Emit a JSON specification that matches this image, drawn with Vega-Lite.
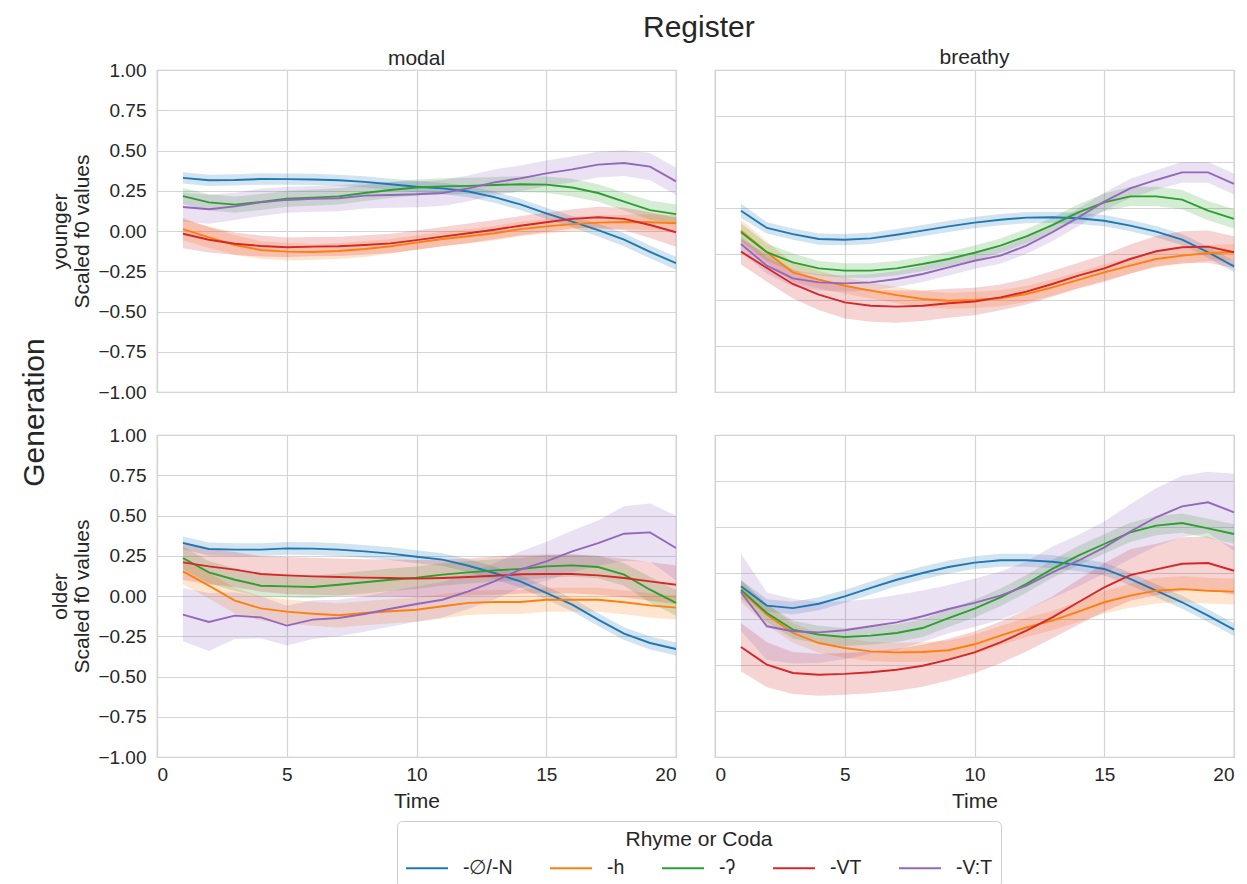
{
  "$schema": "https://vega.github.io/schema/vega-lite/v6.json",
  "background": "white",
  "padding": {"left": 20, "top": 13, "right": 5, "bottom": 5},
  "config": {
    "font": "Liberation Sans",
    "view": {"stroke": "#cccccc", "strokeWidth": 1.25},
    "axis": {
      "domain": false, "ticks": false, "grid": true,
      "gridColor": "#d4d4d4", "gridWidth": 1.2,
      "labelFont": "Liberation Sans", "labelFontSize": 19, "labelColor": "#262626", "labelPadding": 11,
      "titleFont": "Liberation Sans", "titleFontSize": 21, "titleFontWeight": "normal", "titleColor": "#262626", "titleLineHeight": 22
    },
    "axisX": {"labelPadding": 8},
    "title": {"color": "#262626", "fontWeight": "normal", "font": "Liberation Sans"},
    "legend": {
      "titleFontSize": 21, "titleFontWeight": "normal", "titleColor": "#262626",
      "labelFontSize": 19.5, "labelColor": "#262626",
      "titleAnchor": "middle", "titleOrient": "top", "titlePadding": -4,
      "symbolType": "stroke", "symbolStrokeWidth": 2, "symbolSize": 1764, "symbolOpacity": 1,
      "strokeColor": "#cccccc", "fillColor": "white", "cornerRadius": 5, "padding": 8,
      "columnPadding": 33, "labelOffset": 14
    }
  },
  "data": {"values": [
    {"g":"younger","r":"modal","c":"-∅/-N","t":1,"v":0.33,"lo":0.295,"hi":0.365},
    {"g":"younger","r":"modal","c":"-∅/-N","t":2,"v":0.315,"lo":0.28,"hi":0.35},
    {"g":"younger","r":"modal","c":"-∅/-N","t":3,"v":0.317,"lo":0.282,"hi":0.352},
    {"g":"younger","r":"modal","c":"-∅/-N","t":4,"v":0.323,"lo":0.288,"hi":0.358},
    {"g":"younger","r":"modal","c":"-∅/-N","t":5,"v":0.322,"lo":0.287,"hi":0.357},
    {"g":"younger","r":"modal","c":"-∅/-N","t":6,"v":0.32,"lo":0.285,"hi":0.355},
    {"g":"younger","r":"modal","c":"-∅/-N","t":7,"v":0.315,"lo":0.28,"hi":0.35},
    {"g":"younger","r":"modal","c":"-∅/-N","t":8,"v":0.305,"lo":0.27,"hi":0.34},
    {"g":"younger","r":"modal","c":"-∅/-N","t":9,"v":0.29,"lo":0.255,"hi":0.325},
    {"g":"younger","r":"modal","c":"-∅/-N","t":10,"v":0.275,"lo":0.24,"hi":0.31},
    {"g":"younger","r":"modal","c":"-∅/-N","t":11,"v":0.265,"lo":0.23,"hi":0.3},
    {"g":"younger","r":"modal","c":"-∅/-N","t":12,"v":0.245,"lo":0.21,"hi":0.28},
    {"g":"younger","r":"modal","c":"-∅/-N","t":13,"v":0.21,"lo":0.175,"hi":0.245},
    {"g":"younger","r":"modal","c":"-∅/-N","t":14,"v":0.165,"lo":0.13,"hi":0.2},
    {"g":"younger","r":"modal","c":"-∅/-N","t":15,"v":0.11,"lo":0.075,"hi":0.145},
    {"g":"younger","r":"modal","c":"-∅/-N","t":16,"v":0.058,"lo":0.023,"hi":0.093},
    {"g":"younger","r":"modal","c":"-∅/-N","t":17,"v":0.006,"lo":-0.034,"hi":0.046},
    {"g":"younger","r":"modal","c":"-∅/-N","t":18,"v":-0.054,"lo":-0.094,"hi":-0.014},
    {"g":"younger","r":"modal","c":"-∅/-N","t":19,"v":-0.13,"lo":-0.17,"hi":-0.09},
    {"g":"younger","r":"modal","c":"-∅/-N","t":20,"v":-0.2,"lo":-0.24,"hi":-0.16},
    {"g":"younger","r":"modal","c":"-h","t":1,"v":0.012,"lo":-0.058,"hi":0.082},
    {"g":"younger","r":"modal","c":"-h","t":2,"v":-0.04,"lo":-0.105,"hi":0.025},
    {"g":"younger","r":"modal","c":"-h","t":3,"v":-0.087,"lo":-0.147,"hi":-0.027},
    {"g":"younger","r":"modal","c":"-h","t":4,"v":-0.118,"lo":-0.173,"hi":-0.063},
    {"g":"younger","r":"modal","c":"-h","t":5,"v":-0.128,"lo":-0.183,"hi":-0.073},
    {"g":"younger","r":"modal","c":"-h","t":6,"v":-0.13,"lo":-0.18,"hi":-0.08},
    {"g":"younger","r":"modal","c":"-h","t":7,"v":-0.124,"lo":-0.174,"hi":-0.074},
    {"g":"younger","r":"modal","c":"-h","t":8,"v":-0.112,"lo":-0.162,"hi":-0.062},
    {"g":"younger","r":"modal","c":"-h","t":9,"v":-0.095,"lo":-0.14,"hi":-0.05},
    {"g":"younger","r":"modal","c":"-h","t":10,"v":-0.072,"lo":-0.117,"hi":-0.027},
    {"g":"younger","r":"modal","c":"-h","t":11,"v":-0.05,"lo":-0.095,"hi":-0.005},
    {"g":"younger","r":"modal","c":"-h","t":12,"v":-0.033,"lo":-0.078,"hi":0.012},
    {"g":"younger","r":"modal","c":"-h","t":13,"v":-0.014,"lo":-0.059,"hi":0.031},
    {"g":"younger","r":"modal","c":"-h","t":14,"v":0.012,"lo":-0.033,"hi":0.057},
    {"g":"younger","r":"modal","c":"-h","t":15,"v":0.029,"lo":-0.016,"hi":0.074},
    {"g":"younger","r":"modal","c":"-h","t":16,"v":0.043,"lo":-0.002,"hi":0.088},
    {"g":"younger","r":"modal","c":"-h","t":17,"v":0.052,"lo":0.007,"hi":0.097},
    {"g":"younger","r":"modal","c":"-h","t":18,"v":0.056,"lo":0.011,"hi":0.101},
    {"g":"younger","r":"modal","c":"-h","t":19,"v":0.054,"lo":0.004,"hi":0.104},
    {"g":"younger","r":"modal","c":"-h","t":20,"v":0.048,"lo":-0.002,"hi":0.098},
    {"g":"younger","r":"modal","c":"-ʔ","t":1,"v":0.217,"lo":0.167,"hi":0.267},
    {"g":"younger","r":"modal","c":"-ʔ","t":2,"v":0.178,"lo":0.128,"hi":0.228},
    {"g":"younger","r":"modal","c":"-ʔ","t":3,"v":0.164,"lo":0.114,"hi":0.214},
    {"g":"younger","r":"modal","c":"-ʔ","t":4,"v":0.18,"lo":0.13,"hi":0.23},
    {"g":"younger","r":"modal","c":"-ʔ","t":5,"v":0.2,"lo":0.15,"hi":0.25},
    {"g":"younger","r":"modal","c":"-ʔ","t":6,"v":0.207,"lo":0.157,"hi":0.257},
    {"g":"younger","r":"modal","c":"-ʔ","t":7,"v":0.215,"lo":0.165,"hi":0.265},
    {"g":"younger","r":"modal","c":"-ʔ","t":8,"v":0.236,"lo":0.186,"hi":0.286},
    {"g":"younger","r":"modal","c":"-ʔ","t":9,"v":0.255,"lo":0.205,"hi":0.305},
    {"g":"younger","r":"modal","c":"-ʔ","t":10,"v":0.27,"lo":0.22,"hi":0.32},
    {"g":"younger","r":"modal","c":"-ʔ","t":11,"v":0.277,"lo":0.227,"hi":0.327},
    {"g":"younger","r":"modal","c":"-ʔ","t":12,"v":0.28,"lo":0.23,"hi":0.33},
    {"g":"younger","r":"modal","c":"-ʔ","t":13,"v":0.286,"lo":0.236,"hi":0.336},
    {"g":"younger","r":"modal","c":"-ʔ","t":14,"v":0.29,"lo":0.24,"hi":0.34},
    {"g":"younger","r":"modal","c":"-ʔ","t":15,"v":0.288,"lo":0.238,"hi":0.338},
    {"g":"younger","r":"modal","c":"-ʔ","t":16,"v":0.27,"lo":0.215,"hi":0.325},
    {"g":"younger","r":"modal","c":"-ʔ","t":17,"v":0.236,"lo":0.181,"hi":0.291},
    {"g":"younger","r":"modal","c":"-ʔ","t":18,"v":0.182,"lo":0.127,"hi":0.237},
    {"g":"younger","r":"modal","c":"-ʔ","t":19,"v":0.13,"lo":0.07,"hi":0.19},
    {"g":"younger","r":"modal","c":"-ʔ","t":20,"v":0.105,"lo":0.045,"hi":0.165},
    {"g":"younger","r":"modal","c":"-VT","t":1,"v":-0.017,"lo":-0.107,"hi":0.073},
    {"g":"younger","r":"modal","c":"-VT","t":2,"v":-0.054,"lo":-0.134,"hi":0.026},
    {"g":"younger","r":"modal","c":"-VT","t":3,"v":-0.079,"lo":-0.149,"hi":-0.009},
    {"g":"younger","r":"modal","c":"-VT","t":4,"v":-0.093,"lo":-0.158,"hi":-0.028},
    {"g":"younger","r":"modal","c":"-VT","t":5,"v":-0.101,"lo":-0.161,"hi":-0.041},
    {"g":"younger","r":"modal","c":"-VT","t":6,"v":-0.097,"lo":-0.157,"hi":-0.037},
    {"g":"younger","r":"modal","c":"-VT","t":7,"v":-0.095,"lo":-0.155,"hi":-0.035},
    {"g":"younger","r":"modal","c":"-VT","t":8,"v":-0.087,"lo":-0.147,"hi":-0.027},
    {"g":"younger","r":"modal","c":"-VT","t":9,"v":-0.077,"lo":-0.137,"hi":-0.017},
    {"g":"younger","r":"modal","c":"-VT","t":10,"v":-0.057,"lo":-0.117,"hi":0.003},
    {"g":"younger","r":"modal","c":"-VT","t":11,"v":-0.035,"lo":-0.095,"hi":0.025},
    {"g":"younger","r":"modal","c":"-VT","t":12,"v":-0.014,"lo":-0.074,"hi":0.046},
    {"g":"younger","r":"modal","c":"-VT","t":13,"v":0.008,"lo":-0.052,"hi":0.068},
    {"g":"younger","r":"modal","c":"-VT","t":14,"v":0.033,"lo":-0.027,"hi":0.093},
    {"g":"younger","r":"modal","c":"-VT","t":15,"v":0.054,"lo":-0.006,"hi":0.114},
    {"g":"younger","r":"modal","c":"-VT","t":16,"v":0.075,"lo":0.015,"hi":0.135},
    {"g":"younger","r":"modal","c":"-VT","t":17,"v":0.085,"lo":0.02,"hi":0.15},
    {"g":"younger","r":"modal","c":"-VT","t":18,"v":0.075,"lo":0.005,"hi":0.145},
    {"g":"younger","r":"modal","c":"-VT","t":19,"v":0.037,"lo":-0.043,"hi":0.117},
    {"g":"younger","r":"modal","c":"-VT","t":20,"v":-0.008,"lo":-0.098,"hi":0.082},
    {"g":"younger","r":"modal","c":"-V:T","t":1,"v":0.149,"lo":0.059,"hi":0.239},
    {"g":"younger","r":"modal","c":"-V:T","t":2,"v":0.135,"lo":0.045,"hi":0.225},
    {"g":"younger","r":"modal","c":"-V:T","t":3,"v":0.153,"lo":0.068,"hi":0.238},
    {"g":"younger","r":"modal","c":"-V:T","t":4,"v":0.178,"lo":0.093,"hi":0.263},
    {"g":"younger","r":"modal","c":"-V:T","t":5,"v":0.193,"lo":0.113,"hi":0.273},
    {"g":"younger","r":"modal","c":"-V:T","t":6,"v":0.2,"lo":0.12,"hi":0.28},
    {"g":"younger","r":"modal","c":"-V:T","t":7,"v":0.203,"lo":0.123,"hi":0.283},
    {"g":"younger","r":"modal","c":"-V:T","t":8,"v":0.22,"lo":0.14,"hi":0.3},
    {"g":"younger","r":"modal","c":"-V:T","t":9,"v":0.224,"lo":0.144,"hi":0.304},
    {"g":"younger","r":"modal","c":"-V:T","t":10,"v":0.228,"lo":0.148,"hi":0.308},
    {"g":"younger","r":"modal","c":"-V:T","t":11,"v":0.236,"lo":0.156,"hi":0.316},
    {"g":"younger","r":"modal","c":"-V:T","t":12,"v":0.265,"lo":0.185,"hi":0.345},
    {"g":"younger","r":"modal","c":"-V:T","t":13,"v":0.302,"lo":0.222,"hi":0.382},
    {"g":"younger","r":"modal","c":"-V:T","t":14,"v":0.327,"lo":0.247,"hi":0.407},
    {"g":"younger","r":"modal","c":"-V:T","t":15,"v":0.358,"lo":0.278,"hi":0.438},
    {"g":"younger","r":"modal","c":"-V:T","t":16,"v":0.383,"lo":0.303,"hi":0.463},
    {"g":"younger","r":"modal","c":"-V:T","t":17,"v":0.412,"lo":0.332,"hi":0.492},
    {"g":"younger","r":"modal","c":"-V:T","t":18,"v":0.422,"lo":0.342,"hi":0.502},
    {"g":"younger","r":"modal","c":"-V:T","t":19,"v":0.4,"lo":0.315,"hi":0.485},
    {"g":"younger","r":"modal","c":"-V:T","t":20,"v":0.308,"lo":0.223,"hi":0.393},

    {"g":"younger","r":"breathy","c":"-∅/-N","t":1,"v":0.126,"lo":0.081,"hi":0.171},
    {"g":"younger","r":"breathy","c":"-∅/-N","t":2,"v":0.019,"lo":-0.016,"hi":0.054},
    {"g":"younger","r":"breathy","c":"-∅/-N","t":3,"v":-0.019,"lo":-0.054,"hi":0.016},
    {"g":"younger","r":"breathy","c":"-∅/-N","t":4,"v":-0.05,"lo":-0.085,"hi":-0.015},
    {"g":"younger","r":"breathy","c":"-∅/-N","t":5,"v":-0.054,"lo":-0.089,"hi":-0.019},
    {"g":"younger","r":"breathy","c":"-∅/-N","t":6,"v":-0.046,"lo":-0.081,"hi":-0.011},
    {"g":"younger","r":"breathy","c":"-∅/-N","t":7,"v":-0.023,"lo":-0.058,"hi":0.012},
    {"g":"younger","r":"breathy","c":"-∅/-N","t":8,"v":0.002,"lo":-0.033,"hi":0.037},
    {"g":"younger","r":"breathy","c":"-∅/-N","t":9,"v":0.029,"lo":-0.006,"hi":0.064},
    {"g":"younger","r":"breathy","c":"-∅/-N","t":10,"v":0.052,"lo":0.017,"hi":0.087},
    {"g":"younger","r":"breathy","c":"-∅/-N","t":11,"v":0.07,"lo":0.035,"hi":0.105},
    {"g":"younger","r":"breathy","c":"-∅/-N","t":12,"v":0.083,"lo":0.048,"hi":0.118},
    {"g":"younger","r":"breathy","c":"-∅/-N","t":13,"v":0.085,"lo":0.05,"hi":0.12},
    {"g":"younger","r":"breathy","c":"-∅/-N","t":14,"v":0.079,"lo":0.044,"hi":0.114},
    {"g":"younger","r":"breathy","c":"-∅/-N","t":15,"v":0.064,"lo":0.029,"hi":0.099},
    {"g":"younger","r":"breathy","c":"-∅/-N","t":16,"v":0.033,"lo":-0.002,"hi":0.068},
    {"g":"younger","r":"breathy","c":"-∅/-N","t":17,"v":-0.004,"lo":-0.039,"hi":0.031},
    {"g":"younger","r":"breathy","c":"-∅/-N","t":18,"v":-0.054,"lo":-0.089,"hi":-0.019},
    {"g":"younger","r":"breathy","c":"-∅/-N","t":19,"v":-0.132,"lo":-0.167,"hi":-0.097},
    {"g":"younger","r":"breathy","c":"-∅/-N","t":20,"v":-0.22,"lo":-0.255,"hi":-0.185},
    {"g":"younger","r":"breathy","c":"-h","t":1,"v":0.002,"lo":-0.068,"hi":0.072},
    {"g":"younger","r":"breathy","c":"-h","t":2,"v":-0.132,"lo":-0.197,"hi":-0.067},
    {"g":"younger","r":"breathy","c":"-h","t":3,"v":-0.257,"lo":-0.317,"hi":-0.197},
    {"g":"younger","r":"breathy","c":"-h","t":4,"v":-0.302,"lo":-0.357,"hi":-0.247},
    {"g":"younger","r":"breathy","c":"-h","t":5,"v":-0.34,"lo":-0.39,"hi":-0.29},
    {"g":"younger","r":"breathy","c":"-h","t":6,"v":-0.37,"lo":-0.42,"hi":-0.32},
    {"g":"younger","r":"breathy","c":"-h","t":7,"v":-0.398,"lo":-0.448,"hi":-0.348},
    {"g":"younger","r":"breathy","c":"-h","t":8,"v":-0.422,"lo":-0.472,"hi":-0.372},
    {"g":"younger","r":"breathy","c":"-h","t":9,"v":-0.433,"lo":-0.483,"hi":-0.383},
    {"g":"younger","r":"breathy","c":"-h","t":10,"v":-0.428,"lo":-0.478,"hi":-0.378},
    {"g":"younger","r":"breathy","c":"-h","t":11,"v":-0.418,"lo":-0.468,"hi":-0.368},
    {"g":"younger","r":"breathy","c":"-h","t":12,"v":-0.391,"lo":-0.441,"hi":-0.341},
    {"g":"younger","r":"breathy","c":"-h","t":13,"v":-0.35,"lo":-0.4,"hi":-0.3},
    {"g":"younger","r":"breathy","c":"-h","t":14,"v":-0.304,"lo":-0.354,"hi":-0.254},
    {"g":"younger","r":"breathy","c":"-h","t":15,"v":-0.257,"lo":-0.307,"hi":-0.207},
    {"g":"younger","r":"breathy","c":"-h","t":16,"v":-0.215,"lo":-0.265,"hi":-0.165},
    {"g":"younger","r":"breathy","c":"-h","t":17,"v":-0.174,"lo":-0.224,"hi":-0.124},
    {"g":"younger","r":"breathy","c":"-h","t":18,"v":-0.153,"lo":-0.203,"hi":-0.103},
    {"g":"younger","r":"breathy","c":"-h","t":19,"v":-0.137,"lo":-0.187,"hi":-0.087},
    {"g":"younger","r":"breathy","c":"-h","t":20,"v":-0.132,"lo":-0.182,"hi":-0.082},
    {"g":"younger","r":"breathy","c":"-ʔ","t":1,"v":-0.008,"lo":-0.063,"hi":0.047},
    {"g":"younger","r":"breathy","c":"-ʔ","t":2,"v":-0.132,"lo":-0.187,"hi":-0.077},
    {"g":"younger","r":"breathy","c":"-ʔ","t":3,"v":-0.195,"lo":-0.25,"hi":-0.14},
    {"g":"younger","r":"breathy","c":"-ʔ","t":4,"v":-0.232,"lo":-0.277,"hi":-0.187},
    {"g":"younger","r":"breathy","c":"-ʔ","t":5,"v":-0.246,"lo":-0.291,"hi":-0.201},
    {"g":"younger","r":"breathy","c":"-ʔ","t":6,"v":-0.246,"lo":-0.291,"hi":-0.201},
    {"g":"younger","r":"breathy","c":"-ʔ","t":7,"v":-0.232,"lo":-0.277,"hi":-0.187},
    {"g":"younger","r":"breathy","c":"-ʔ","t":8,"v":-0.205,"lo":-0.25,"hi":-0.16},
    {"g":"younger","r":"breathy","c":"-ʔ","t":9,"v":-0.174,"lo":-0.219,"hi":-0.129},
    {"g":"younger","r":"breathy","c":"-ʔ","t":10,"v":-0.135,"lo":-0.18,"hi":-0.09},
    {"g":"younger","r":"breathy","c":"-ʔ","t":11,"v":-0.091,"lo":-0.136,"hi":-0.046},
    {"g":"younger","r":"breathy","c":"-ʔ","t":12,"v":-0.033,"lo":-0.078,"hi":0.012},
    {"g":"younger","r":"breathy","c":"-ʔ","t":13,"v":0.037,"lo":-0.008,"hi":0.082},
    {"g":"younger","r":"breathy","c":"-ʔ","t":14,"v":0.116,"lo":0.066,"hi":0.166},
    {"g":"younger","r":"breathy","c":"-ʔ","t":15,"v":0.178,"lo":0.123,"hi":0.233},
    {"g":"younger","r":"breathy","c":"-ʔ","t":16,"v":0.215,"lo":0.155,"hi":0.275},
    {"g":"younger","r":"breathy","c":"-ʔ","t":17,"v":0.215,"lo":0.155,"hi":0.275},
    {"g":"younger","r":"breathy","c":"-ʔ","t":18,"v":0.195,"lo":0.135,"hi":0.255},
    {"g":"younger","r":"breathy","c":"-ʔ","t":19,"v":0.126,"lo":0.066,"hi":0.186},
    {"g":"younger","r":"breathy","c":"-ʔ","t":20,"v":0.075,"lo":0.015,"hi":0.135},
    {"g":"younger","r":"breathy","c":"-VT","t":1,"v":-0.128,"lo":-0.208,"hi":-0.048},
    {"g":"younger","r":"breathy","c":"-VT","t":2,"v":-0.23,"lo":-0.315,"hi":-0.145},
    {"g":"younger","r":"breathy","c":"-VT","t":3,"v":-0.329,"lo":-0.419,"hi":-0.239},
    {"g":"younger","r":"breathy","c":"-VT","t":4,"v":-0.395,"lo":-0.49,"hi":-0.3},
    {"g":"younger","r":"breathy","c":"-VT","t":5,"v":-0.443,"lo":-0.543,"hi":-0.343},
    {"g":"younger","r":"breathy","c":"-VT","t":6,"v":-0.464,"lo":-0.564,"hi":-0.364},
    {"g":"younger","r":"breathy","c":"-VT","t":7,"v":-0.47,"lo":-0.57,"hi":-0.37},
    {"g":"younger","r":"breathy","c":"-VT","t":8,"v":-0.464,"lo":-0.559,"hi":-0.369},
    {"g":"younger","r":"breathy","c":"-VT","t":9,"v":-0.449,"lo":-0.539,"hi":-0.359},
    {"g":"younger","r":"breathy","c":"-VT","t":10,"v":-0.438,"lo":-0.523,"hi":-0.353},
    {"g":"younger","r":"breathy","c":"-VT","t":11,"v":-0.412,"lo":-0.492,"hi":-0.332},
    {"g":"younger","r":"breathy","c":"-VT","t":12,"v":-0.377,"lo":-0.457,"hi":-0.297},
    {"g":"younger","r":"breathy","c":"-VT","t":13,"v":-0.329,"lo":-0.409,"hi":-0.249},
    {"g":"younger","r":"breathy","c":"-VT","t":14,"v":-0.277,"lo":-0.357,"hi":-0.197},
    {"g":"younger","r":"breathy","c":"-VT","t":15,"v":-0.232,"lo":-0.317,"hi":-0.147},
    {"g":"younger","r":"breathy","c":"-VT","t":16,"v":-0.174,"lo":-0.264,"hi":-0.084},
    {"g":"younger","r":"breathy","c":"-VT","t":17,"v":-0.126,"lo":-0.221,"hi":-0.031},
    {"g":"younger","r":"breathy","c":"-VT","t":18,"v":-0.101,"lo":-0.201,"hi":-0.001},
    {"g":"younger","r":"breathy","c":"-VT","t":19,"v":-0.097,"lo":-0.197,"hi":0.003},
    {"g":"younger","r":"breathy","c":"-VT","t":20,"v":-0.132,"lo":-0.232,"hi":-0.032},
    {"g":"younger","r":"breathy","c":"-V:T","t":1,"v":-0.081,"lo":-0.131,"hi":-0.031},
    {"g":"younger","r":"breathy","c":"-V:T","t":2,"v":-0.215,"lo":-0.265,"hi":-0.165},
    {"g":"younger","r":"breathy","c":"-V:T","t":3,"v":-0.294,"lo":-0.344,"hi":-0.244},
    {"g":"younger","r":"breathy","c":"-V:T","t":4,"v":-0.319,"lo":-0.369,"hi":-0.269},
    {"g":"younger","r":"breathy","c":"-V:T","t":5,"v":-0.325,"lo":-0.375,"hi":-0.275},
    {"g":"younger","r":"breathy","c":"-V:T","t":6,"v":-0.319,"lo":-0.369,"hi":-0.269},
    {"g":"younger","r":"breathy","c":"-V:T","t":7,"v":-0.298,"lo":-0.348,"hi":-0.248},
    {"g":"younger","r":"breathy","c":"-V:T","t":8,"v":-0.267,"lo":-0.317,"hi":-0.217},
    {"g":"younger","r":"breathy","c":"-V:T","t":9,"v":-0.226,"lo":-0.276,"hi":-0.176},
    {"g":"younger","r":"breathy","c":"-V:T","t":10,"v":-0.185,"lo":-0.235,"hi":-0.135},
    {"g":"younger","r":"breathy","c":"-V:T","t":11,"v":-0.153,"lo":-0.203,"hi":-0.103},
    {"g":"younger","r":"breathy","c":"-V:T","t":12,"v":-0.091,"lo":-0.141,"hi":-0.041},
    {"g":"younger","r":"breathy","c":"-V:T","t":13,"v":-0.008,"lo":-0.063,"hi":0.047},
    {"g":"younger","r":"breathy","c":"-V:T","t":14,"v":0.085,"lo":0.03,"hi":0.14},
    {"g":"younger","r":"breathy","c":"-V:T","t":15,"v":0.182,"lo":0.127,"hi":0.237},
    {"g":"younger","r":"breathy","c":"-V:T","t":16,"v":0.265,"lo":0.205,"hi":0.325},
    {"g":"younger","r":"breathy","c":"-V:T","t":17,"v":0.317,"lo":0.257,"hi":0.377},
    {"g":"younger","r":"breathy","c":"-V:T","t":18,"v":0.364,"lo":0.299,"hi":0.429},
    {"g":"younger","r":"breathy","c":"-V:T","t":19,"v":0.364,"lo":0.299,"hi":0.429},
    {"g":"younger","r":"breathy","c":"-V:T","t":20,"v":0.292,"lo":0.227,"hi":0.357},

    {"g":"older","r":"modal","c":"-∅/-N","t":1,"v":0.329,"lo":0.289,"hi":0.369},
    {"g":"older","r":"modal","c":"-∅/-N","t":2,"v":0.292,"lo":0.252,"hi":0.332},
    {"g":"older","r":"modal","c":"-∅/-N","t":3,"v":0.288,"lo":0.248,"hi":0.328},
    {"g":"older","r":"modal","c":"-∅/-N","t":4,"v":0.288,"lo":0.248,"hi":0.328},
    {"g":"older","r":"modal","c":"-∅/-N","t":5,"v":0.296,"lo":0.256,"hi":0.336},
    {"g":"older","r":"modal","c":"-∅/-N","t":6,"v":0.294,"lo":0.254,"hi":0.334},
    {"g":"older","r":"modal","c":"-∅/-N","t":7,"v":0.288,"lo":0.248,"hi":0.328},
    {"g":"older","r":"modal","c":"-∅/-N","t":8,"v":0.277,"lo":0.237,"hi":0.317},
    {"g":"older","r":"modal","c":"-∅/-N","t":9,"v":0.263,"lo":0.223,"hi":0.303},
    {"g":"older","r":"modal","c":"-∅/-N","t":10,"v":0.244,"lo":0.204,"hi":0.284},
    {"g":"older","r":"modal","c":"-∅/-N","t":11,"v":0.226,"lo":0.186,"hi":0.266},
    {"g":"older","r":"modal","c":"-∅/-N","t":12,"v":0.188,"lo":0.148,"hi":0.228},
    {"g":"older","r":"modal","c":"-∅/-N","t":13,"v":0.143,"lo":0.103,"hi":0.183},
    {"g":"older","r":"modal","c":"-∅/-N","t":14,"v":0.091,"lo":0.051,"hi":0.131},
    {"g":"older","r":"modal","c":"-∅/-N","t":15,"v":0.019,"lo":-0.021,"hi":0.059},
    {"g":"older","r":"modal","c":"-∅/-N","t":16,"v":-0.054,"lo":-0.094,"hi":-0.014},
    {"g":"older","r":"modal","c":"-∅/-N","t":17,"v":-0.147,"lo":-0.187,"hi":-0.107},
    {"g":"older","r":"modal","c":"-∅/-N","t":18,"v":-0.234,"lo":-0.274,"hi":-0.194},
    {"g":"older","r":"modal","c":"-∅/-N","t":19,"v":-0.292,"lo":-0.332,"hi":-0.252},
    {"g":"older","r":"modal","c":"-∅/-N","t":20,"v":-0.329,"lo":-0.369,"hi":-0.289},
    {"g":"older","r":"modal","c":"-h","t":1,"v":0.153,"lo":0.073,"hi":0.233},
    {"g":"older","r":"modal","c":"-h","t":2,"v":0.064,"lo":-0.016,"hi":0.144},
    {"g":"older","r":"modal","c":"-h","t":3,"v":-0.029,"lo":-0.109,"hi":0.051},
    {"g":"older","r":"modal","c":"-h","t":4,"v":-0.077,"lo":-0.152,"hi":-0.002},
    {"g":"older","r":"modal","c":"-h","t":5,"v":-0.097,"lo":-0.172,"hi":-0.022},
    {"g":"older","r":"modal","c":"-h","t":6,"v":-0.11,"lo":-0.185,"hi":-0.035},
    {"g":"older","r":"modal","c":"-h","t":7,"v":-0.12,"lo":-0.195,"hi":-0.045},
    {"g":"older","r":"modal","c":"-h","t":8,"v":-0.106,"lo":-0.181,"hi":-0.031},
    {"g":"older","r":"modal","c":"-h","t":9,"v":-0.095,"lo":-0.17,"hi":-0.02},
    {"g":"older","r":"modal","c":"-h","t":10,"v":-0.085,"lo":-0.16,"hi":-0.01},
    {"g":"older","r":"modal","c":"-h","t":11,"v":-0.064,"lo":-0.139,"hi":0.011},
    {"g":"older","r":"modal","c":"-h","t":12,"v":-0.043,"lo":-0.118,"hi":0.032},
    {"g":"older","r":"modal","c":"-h","t":13,"v":-0.037,"lo":-0.112,"hi":0.038},
    {"g":"older","r":"modal","c":"-h","t":14,"v":-0.037,"lo":-0.112,"hi":0.038},
    {"g":"older","r":"modal","c":"-h","t":15,"v":-0.023,"lo":-0.098,"hi":0.052},
    {"g":"older","r":"modal","c":"-h","t":16,"v":-0.023,"lo":-0.098,"hi":0.052},
    {"g":"older","r":"modal","c":"-h","t":17,"v":-0.023,"lo":-0.098,"hi":0.052},
    {"g":"older","r":"modal","c":"-h","t":18,"v":-0.039,"lo":-0.114,"hi":0.036},
    {"g":"older","r":"modal","c":"-h","t":19,"v":-0.058,"lo":-0.133,"hi":0.017},
    {"g":"older","r":"modal","c":"-h","t":20,"v":-0.072,"lo":-0.147,"hi":0.003},
    {"g":"older","r":"modal","c":"-ʔ","t":1,"v":0.236,"lo":0.166,"hi":0.306},
    {"g":"older","r":"modal","c":"-ʔ","t":2,"v":0.147,"lo":0.077,"hi":0.217},
    {"g":"older","r":"modal","c":"-ʔ","t":3,"v":0.101,"lo":0.031,"hi":0.171},
    {"g":"older","r":"modal","c":"-ʔ","t":4,"v":0.064,"lo":-0.006,"hi":0.134},
    {"g":"older","r":"modal","c":"-ʔ","t":5,"v":0.06,"lo":-0.01,"hi":0.13},
    {"g":"older","r":"modal","c":"-ʔ","t":6,"v":0.056,"lo":-0.014,"hi":0.126},
    {"g":"older","r":"modal","c":"-ʔ","t":7,"v":0.07,"lo":0.0,"hi":0.14},
    {"g":"older","r":"modal","c":"-ʔ","t":8,"v":0.085,"lo":0.015,"hi":0.155},
    {"g":"older","r":"modal","c":"-ʔ","t":9,"v":0.101,"lo":0.031,"hi":0.171},
    {"g":"older","r":"modal","c":"-ʔ","t":10,"v":0.113,"lo":0.043,"hi":0.183},
    {"g":"older","r":"modal","c":"-ʔ","t":11,"v":0.133,"lo":0.063,"hi":0.203},
    {"g":"older","r":"modal","c":"-ʔ","t":12,"v":0.147,"lo":0.077,"hi":0.217},
    {"g":"older","r":"modal","c":"-ʔ","t":13,"v":0.159,"lo":0.089,"hi":0.229},
    {"g":"older","r":"modal","c":"-ʔ","t":14,"v":0.168,"lo":0.098,"hi":0.238},
    {"g":"older","r":"modal","c":"-ʔ","t":15,"v":0.184,"lo":0.114,"hi":0.254},
    {"g":"older","r":"modal","c":"-ʔ","t":16,"v":0.19,"lo":0.12,"hi":0.26},
    {"g":"older","r":"modal","c":"-ʔ","t":17,"v":0.18,"lo":0.11,"hi":0.25},
    {"g":"older","r":"modal","c":"-ʔ","t":18,"v":0.133,"lo":0.063,"hi":0.203},
    {"g":"older","r":"modal","c":"-ʔ","t":19,"v":0.039,"lo":-0.041,"hi":0.119},
    {"g":"older","r":"modal","c":"-ʔ","t":20,"v":-0.043,"lo":-0.123,"hi":0.037},
    {"g":"older","r":"modal","c":"-VT","t":1,"v":0.209,"lo":0.099,"hi":0.319},
    {"g":"older","r":"modal","c":"-VT","t":2,"v":0.184,"lo":0.074,"hi":0.294},
    {"g":"older","r":"modal","c":"-VT","t":3,"v":0.164,"lo":0.054,"hi":0.274},
    {"g":"older","r":"modal","c":"-VT","t":4,"v":0.137,"lo":0.027,"hi":0.247},
    {"g":"older","r":"modal","c":"-VT","t":5,"v":0.128,"lo":0.013,"hi":0.243},
    {"g":"older","r":"modal","c":"-VT","t":6,"v":0.122,"lo":0.007,"hi":0.237},
    {"g":"older","r":"modal","c":"-VT","t":7,"v":0.118,"lo":0.003,"hi":0.233},
    {"g":"older","r":"modal","c":"-VT","t":8,"v":0.114,"lo":-0.001,"hi":0.229},
    {"g":"older","r":"modal","c":"-VT","t":9,"v":0.112,"lo":-0.003,"hi":0.227},
    {"g":"older","r":"modal","c":"-VT","t":10,"v":0.108,"lo":-0.007,"hi":0.223},
    {"g":"older","r":"modal","c":"-VT","t":11,"v":0.112,"lo":-0.003,"hi":0.227},
    {"g":"older","r":"modal","c":"-VT","t":12,"v":0.118,"lo":0.003,"hi":0.233},
    {"g":"older","r":"modal","c":"-VT","t":13,"v":0.126,"lo":0.006,"hi":0.246},
    {"g":"older","r":"modal","c":"-VT","t":14,"v":0.135,"lo":0.015,"hi":0.255},
    {"g":"older","r":"modal","c":"-VT","t":15,"v":0.137,"lo":0.017,"hi":0.257},
    {"g":"older","r":"modal","c":"-VT","t":16,"v":0.137,"lo":0.017,"hi":0.257},
    {"g":"older","r":"modal","c":"-VT","t":17,"v":0.128,"lo":0.008,"hi":0.248},
    {"g":"older","r":"modal","c":"-VT","t":18,"v":0.112,"lo":-0.008,"hi":0.232},
    {"g":"older","r":"modal","c":"-VT","t":19,"v":0.091,"lo":-0.029,"hi":0.211},
    {"g":"older","r":"modal","c":"-VT","t":20,"v":0.07,"lo":-0.05,"hi":0.19},
    {"g":"older","r":"modal","c":"-V:T","t":1,"v":-0.116,"lo":-0.281,"hi":0.049},
    {"g":"older","r":"modal","c":"-V:T","t":2,"v":-0.161,"lo":-0.341,"hi":0.019},
    {"g":"older","r":"modal","c":"-V:T","t":3,"v":-0.122,"lo":-0.267,"hi":0.023},
    {"g":"older","r":"modal","c":"-V:T","t":4,"v":-0.133,"lo":-0.263,"hi":-0.003},
    {"g":"older","r":"modal","c":"-V:T","t":5,"v":-0.184,"lo":-0.308,"hi":-0.06},
    {"g":"older","r":"modal","c":"-V:T","t":6,"v":-0.147,"lo":-0.267,"hi":-0.027},
    {"g":"older","r":"modal","c":"-V:T","t":7,"v":-0.137,"lo":-0.25,"hi":-0.024},
    {"g":"older","r":"modal","c":"-V:T","t":8,"v":-0.112,"lo":-0.222,"hi":-0.002},
    {"g":"older","r":"modal","c":"-V:T","t":9,"v":-0.079,"lo":-0.189,"hi":0.031},
    {"g":"older","r":"modal","c":"-V:T","t":10,"v":-0.05,"lo":-0.16,"hi":0.06},
    {"g":"older","r":"modal","c":"-V:T","t":11,"v":-0.023,"lo":-0.133,"hi":0.087},
    {"g":"older","r":"modal","c":"-V:T","t":12,"v":0.029,"lo":-0.081,"hi":0.139},
    {"g":"older","r":"modal","c":"-V:T","t":13,"v":0.091,"lo":-0.021,"hi":0.203},
    {"g":"older","r":"modal","c":"-V:T","t":14,"v":0.164,"lo":0.051,"hi":0.277},
    {"g":"older","r":"modal","c":"-V:T","t":15,"v":0.215,"lo":0.095,"hi":0.335},
    {"g":"older","r":"modal","c":"-V:T","t":16,"v":0.277,"lo":0.147,"hi":0.407},
    {"g":"older","r":"modal","c":"-V:T","t":17,"v":0.329,"lo":0.189,"hi":0.469},
    {"g":"older","r":"modal","c":"-V:T","t":18,"v":0.387,"lo":0.217,"hi":0.557},
    {"g":"older","r":"modal","c":"-V:T","t":19,"v":0.395,"lo":0.215,"hi":0.575},
    {"g":"older","r":"modal","c":"-V:T","t":20,"v":0.298,"lo":0.098,"hi":0.498},

    {"g":"older","r":"breathy","c":"-∅/-N","t":1,"v":0.06,"lo":0.02,"hi":0.1},
    {"g":"older","r":"breathy","c":"-∅/-N","t":2,"v":-0.06,"lo":-0.1,"hi":-0.02},
    {"g":"older","r":"breathy","c":"-∅/-N","t":3,"v":-0.075,"lo":-0.115,"hi":-0.035},
    {"g":"older","r":"breathy","c":"-∅/-N","t":4,"v":-0.048,"lo":-0.088,"hi":-0.008},
    {"g":"older","r":"breathy","c":"-∅/-N","t":5,"v":-0.002,"lo":-0.042,"hi":0.038},
    {"g":"older","r":"breathy","c":"-∅/-N","t":6,"v":0.05,"lo":0.01,"hi":0.09},
    {"g":"older","r":"breathy","c":"-∅/-N","t":7,"v":0.101,"lo":0.061,"hi":0.141},
    {"g":"older","r":"breathy","c":"-∅/-N","t":8,"v":0.143,"lo":0.103,"hi":0.183},
    {"g":"older","r":"breathy","c":"-∅/-N","t":9,"v":0.18,"lo":0.14,"hi":0.22},
    {"g":"older","r":"breathy","c":"-∅/-N","t":10,"v":0.207,"lo":0.167,"hi":0.247},
    {"g":"older","r":"breathy","c":"-∅/-N","t":11,"v":0.222,"lo":0.182,"hi":0.262},
    {"g":"older","r":"breathy","c":"-∅/-N","t":12,"v":0.222,"lo":0.182,"hi":0.262},
    {"g":"older","r":"breathy","c":"-∅/-N","t":13,"v":0.213,"lo":0.173,"hi":0.253},
    {"g":"older","r":"breathy","c":"-∅/-N","t":14,"v":0.193,"lo":0.153,"hi":0.233},
    {"g":"older","r":"breathy","c":"-∅/-N","t":15,"v":0.168,"lo":0.128,"hi":0.208},
    {"g":"older","r":"breathy","c":"-∅/-N","t":16,"v":0.106,"lo":0.066,"hi":0.146},
    {"g":"older","r":"breathy","c":"-∅/-N","t":17,"v":0.033,"lo":-0.007,"hi":0.073},
    {"g":"older","r":"breathy","c":"-∅/-N","t":18,"v":-0.039,"lo":-0.079,"hi":0.001},
    {"g":"older","r":"breathy","c":"-∅/-N","t":19,"v":-0.122,"lo":-0.162,"hi":-0.082},
    {"g":"older","r":"breathy","c":"-∅/-N","t":20,"v":-0.209,"lo":-0.249,"hi":-0.169},
    {"g":"older","r":"breathy","c":"-h","t":1,"v":0.029,"lo":-0.041,"hi":0.099},
    {"g":"older","r":"breathy","c":"-h","t":2,"v":-0.116,"lo":-0.181,"hi":-0.051},
    {"g":"older","r":"breathy","c":"-h","t":3,"v":-0.23,"lo":-0.29,"hi":-0.17},
    {"g":"older","r":"breathy","c":"-h","t":4,"v":-0.292,"lo":-0.352,"hi":-0.232},
    {"g":"older","r":"breathy","c":"-h","t":5,"v":-0.323,"lo":-0.383,"hi":-0.263},
    {"g":"older","r":"breathy","c":"-h","t":6,"v":-0.344,"lo":-0.404,"hi":-0.284},
    {"g":"older","r":"breathy","c":"-h","t":7,"v":-0.35,"lo":-0.41,"hi":-0.29},
    {"g":"older","r":"breathy","c":"-h","t":8,"v":-0.348,"lo":-0.408,"hi":-0.288},
    {"g":"older","r":"breathy","c":"-h","t":9,"v":-0.337,"lo":-0.397,"hi":-0.277},
    {"g":"older","r":"breathy","c":"-h","t":10,"v":-0.3,"lo":-0.36,"hi":-0.24},
    {"g":"older","r":"breathy","c":"-h","t":11,"v":-0.246,"lo":-0.306,"hi":-0.186},
    {"g":"older","r":"breathy","c":"-h","t":12,"v":-0.195,"lo":-0.255,"hi":-0.135},
    {"g":"older","r":"breathy","c":"-h","t":13,"v":-0.153,"lo":-0.213,"hi":-0.093},
    {"g":"older","r":"breathy","c":"-h","t":14,"v":-0.097,"lo":-0.162,"hi":-0.032},
    {"g":"older","r":"breathy","c":"-h","t":15,"v":-0.039,"lo":-0.109,"hi":0.031},
    {"g":"older","r":"breathy","c":"-h","t":16,"v":0.002,"lo":-0.073,"hi":0.077},
    {"g":"older","r":"breathy","c":"-h","t":17,"v":0.033,"lo":-0.047,"hi":0.113},
    {"g":"older","r":"breathy","c":"-h","t":18,"v":0.043,"lo":-0.037,"hi":0.123},
    {"g":"older","r":"breathy","c":"-h","t":19,"v":0.033,"lo":-0.047,"hi":0.113},
    {"g":"older","r":"breathy","c":"-h","t":20,"v":0.027,"lo":-0.053,"hi":0.107},
    {"g":"older","r":"breathy","c":"-ʔ","t":1,"v":0.039,"lo":-0.016,"hi":0.094},
    {"g":"older","r":"breathy","c":"-ʔ","t":2,"v":-0.106,"lo":-0.161,"hi":-0.051},
    {"g":"older","r":"breathy","c":"-ʔ","t":3,"v":-0.209,"lo":-0.264,"hi":-0.154},
    {"g":"older","r":"breathy","c":"-ʔ","t":4,"v":-0.24,"lo":-0.295,"hi":-0.185},
    {"g":"older","r":"breathy","c":"-ʔ","t":5,"v":-0.255,"lo":-0.31,"hi":-0.2},
    {"g":"older","r":"breathy","c":"-ʔ","t":6,"v":-0.246,"lo":-0.301,"hi":-0.191},
    {"g":"older","r":"breathy","c":"-ʔ","t":7,"v":-0.23,"lo":-0.285,"hi":-0.175},
    {"g":"older","r":"breathy","c":"-ʔ","t":8,"v":-0.199,"lo":-0.254,"hi":-0.144},
    {"g":"older","r":"breathy","c":"-ʔ","t":9,"v":-0.137,"lo":-0.192,"hi":-0.082},
    {"g":"older","r":"breathy","c":"-ʔ","t":10,"v":-0.078,"lo":-0.133,"hi":-0.023},
    {"g":"older","r":"breathy","c":"-ʔ","t":11,"v":-0.008,"lo":-0.063,"hi":0.047},
    {"g":"older","r":"breathy","c":"-ʔ","t":12,"v":0.075,"lo":0.02,"hi":0.13},
    {"g":"older","r":"breathy","c":"-ʔ","t":13,"v":0.168,"lo":0.113,"hi":0.223},
    {"g":"older","r":"breathy","c":"-ʔ","t":14,"v":0.251,"lo":0.191,"hi":0.311},
    {"g":"older","r":"breathy","c":"-ʔ","t":15,"v":0.323,"lo":0.263,"hi":0.383},
    {"g":"older","r":"breathy","c":"-ʔ","t":16,"v":0.395,"lo":0.335,"hi":0.455},
    {"g":"older","r":"breathy","c":"-ʔ","t":17,"v":0.437,"lo":0.377,"hi":0.497},
    {"g":"older","r":"breathy","c":"-ʔ","t":18,"v":0.453,"lo":0.393,"hi":0.513},
    {"g":"older","r":"breathy","c":"-ʔ","t":19,"v":0.42,"lo":0.36,"hi":0.48},
    {"g":"older","r":"breathy","c":"-ʔ","t":20,"v":0.385,"lo":0.325,"hi":0.445},
    {"g":"older","r":"breathy","c":"-VT","t":1,"v":-0.317,"lo":-0.467,"hi":-0.167},
    {"g":"older","r":"breathy","c":"-VT","t":2,"v":-0.427,"lo":-0.567,"hi":-0.287},
    {"g":"older","r":"breathy","c":"-VT","t":3,"v":-0.478,"lo":-0.608,"hi":-0.348},
    {"g":"older","r":"breathy","c":"-VT","t":4,"v":-0.489,"lo":-0.619,"hi":-0.359},
    {"g":"older","r":"breathy","c":"-VT","t":5,"v":-0.484,"lo":-0.614,"hi":-0.354},
    {"g":"older","r":"breathy","c":"-VT","t":6,"v":-0.474,"lo":-0.604,"hi":-0.344},
    {"g":"older","r":"breathy","c":"-VT","t":7,"v":-0.458,"lo":-0.588,"hi":-0.328},
    {"g":"older","r":"breathy","c":"-VT","t":8,"v":-0.433,"lo":-0.563,"hi":-0.303},
    {"g":"older","r":"breathy","c":"-VT","t":9,"v":-0.395,"lo":-0.525,"hi":-0.265},
    {"g":"older","r":"breathy","c":"-VT","t":10,"v":-0.35,"lo":-0.48,"hi":-0.22},
    {"g":"older","r":"breathy","c":"-VT","t":11,"v":-0.288,"lo":-0.418,"hi":-0.158},
    {"g":"older","r":"breathy","c":"-VT","t":12,"v":-0.215,"lo":-0.345,"hi":-0.085},
    {"g":"older","r":"breathy","c":"-VT","t":13,"v":-0.133,"lo":-0.263,"hi":-0.003},
    {"g":"older","r":"breathy","c":"-VT","t":14,"v":-0.039,"lo":-0.179,"hi":0.101},
    {"g":"older","r":"breathy","c":"-VT","t":15,"v":0.054,"lo":-0.096,"hi":0.204},
    {"g":"older","r":"breathy","c":"-VT","t":16,"v":0.13,"lo":-0.03,"hi":0.29},
    {"g":"older","r":"breathy","c":"-VT","t":17,"v":0.165,"lo":0.005,"hi":0.325},
    {"g":"older","r":"breathy","c":"-VT","t":18,"v":0.2,"lo":0.035,"hi":0.365},
    {"g":"older","r":"breathy","c":"-VT","t":19,"v":0.205,"lo":0.04,"hi":0.37},
    {"g":"older","r":"breathy","c":"-VT","t":20,"v":0.157,"lo":0.007,"hi":0.307},
    {"g":"older","r":"breathy","c":"-V:T","t":1,"v":0.023,"lo":-0.217,"hi":0.263},
    {"g":"older","r":"breathy","c":"-V:T","t":2,"v":-0.188,"lo":-0.398,"hi":0.022},
    {"g":"older","r":"breathy","c":"-V:T","t":3,"v":-0.219,"lo":-0.419,"hi":-0.019},
    {"g":"older","r":"breathy","c":"-V:T","t":4,"v":-0.226,"lo":-0.416,"hi":-0.036},
    {"g":"older","r":"breathy","c":"-V:T","t":5,"v":-0.213,"lo":-0.393,"hi":-0.033},
    {"g":"older","r":"breathy","c":"-V:T","t":6,"v":-0.188,"lo":-0.358,"hi":-0.018},
    {"g":"older","r":"breathy","c":"-V:T","t":7,"v":-0.164,"lo":-0.334,"hi":0.006},
    {"g":"older","r":"breathy","c":"-V:T","t":8,"v":-0.126,"lo":-0.286,"hi":0.034},
    {"g":"older","r":"breathy","c":"-V:T","t":9,"v":-0.081,"lo":-0.231,"hi":0.069},
    {"g":"older","r":"breathy","c":"-V:T","t":10,"v":-0.043,"lo":-0.193,"hi":0.107},
    {"g":"older","r":"breathy","c":"-V:T","t":11,"v":0.002,"lo":-0.148,"hi":0.152},
    {"g":"older","r":"breathy","c":"-V:T","t":12,"v":0.064,"lo":-0.086,"hi":0.214},
    {"g":"older","r":"breathy","c":"-V:T","t":13,"v":0.147,"lo":-0.013,"hi":0.307},
    {"g":"older","r":"breathy","c":"-V:T","t":14,"v":0.219,"lo":0.059,"hi":0.379},
    {"g":"older","r":"breathy","c":"-V:T","t":15,"v":0.302,"lo":0.142,"hi":0.462},
    {"g":"older","r":"breathy","c":"-V:T","t":16,"v":0.4,"lo":0.23,"hi":0.57},
    {"g":"older","r":"breathy","c":"-V:T","t":17,"v":0.489,"lo":0.309,"hi":0.669},
    {"g":"older","r":"breathy","c":"-V:T","t":18,"v":0.557,"lo":0.367,"hi":0.747},
    {"g":"older","r":"breathy","c":"-V:T","t":19,"v":0.582,"lo":0.392,"hi":0.772},
    {"g":"older","r":"breathy","c":"-V:T","t":20,"v":0.52,"lo":0.28,"hi":0.76}
  ]},
  "vconcat": [
    {
      "title": {"text": "Generation", "orient": "left", "anchor": "middle", "fontSize": 30, "offset": -1},
      "vconcat": [
        {
          "title": {"text": "Register", "anchor": "middle", "fontSize": 30, "offset": 3, "dx": 55},
          "columns": 2,
          "spacing": {"row": 43, "column": 39},
          "bounds": "flush",
          "concat": [
            {
              "width": 519, "height": 322,
              "title": {"text": "modal", "fontSize": 21, "offset": -8},
              "transform": [{"filter": "datum.g == 'younger' && datum.r == 'modal'"}],
              "encoding": {
                "x": {"field": "t", "type": "quantitative", "scale": {"domain": [0, 20], "nice": false}, "axis": {"values": [0, 5, 10, 15, 20], "labels": false, "title": null}},
                "color": {"field": "c", "type": "nominal", "scale": {"domain": ["-∅/-N", "-h", "-ʔ", "-VT", "-V:T"], "range": ["#1f77b4", "#ff7f0e", "#2ca02c", "#d62728", "#9467bd"]}, "legend": {"title": "Rhyme or Coda", "orient": "none", "legendX": 240, "legendY": 751, "direction": "horizontal", "columns": 5}}
              },
              "layer": [
                {"mark": {"type": "area", "fillOpacity": 0.2}, "encoding": {"y": {"field": "lo", "type": "quantitative", "scale": {"domain": [-1, 1], "nice": false, "zero": false}, "axis": {"values": [-1, -0.75, -0.5, -0.25, 0, 0.25, 0.5, 0.75, 1], "format": ".2f", "title": ["younger", "Scaled f0 values"], "titlePadding": 5}}, "y2": {"field": "hi"}}},
                {"mark": {"type": "line", "strokeWidth": 1.9}, "encoding": {"y": {"field": "v", "type": "quantitative", "axis": {"values": [-1, -0.75, -0.5, -0.25, 0, 0.25, 0.5, 0.75, 1], "format": ".2f", "title": ["younger", "Scaled f0 values"], "titlePadding": 5}}}}
              ]
            },
            {
              "width": 519, "height": 322,
              "title": {"text": "breathy", "fontSize": 21, "offset": 2},
              "transform": [{"filter": "datum.g == 'younger' && datum.r == 'breathy'"}],
              "encoding": {
                "x": {"field": "t", "type": "quantitative", "scale": {"domain": [0, 20], "nice": false}, "axis": {"values": [0, 5, 10, 15, 20], "labels": false, "title": null}},
                "color": {"field": "c", "type": "nominal", "scale": {"domain": ["-∅/-N", "-h", "-ʔ", "-VT", "-V:T"], "range": ["#1f77b4", "#ff7f0e", "#2ca02c", "#d62728", "#9467bd"]}, "legend": {"title": "Rhyme or Coda", "orient": "none", "legendX": 240, "legendY": 751, "direction": "horizontal", "columns": 5}}
              },
              "layer": [
                {"mark": {"type": "area", "fillOpacity": 0.2}, "encoding": {"y": {"field": "lo", "type": "quantitative", "scale": {"domain": [-1, 1], "nice": false, "zero": false}, "axis": {"values": [-1, -0.7142857, -0.4285714, -0.1428571, 0.1428571, 0.4285714, 0.7142857, 1], "labels": false, "title": null}}, "y2": {"field": "hi"}}},
                {"mark": {"type": "line", "strokeWidth": 1.9}, "encoding": {"y": {"field": "v", "type": "quantitative", "axis": {"values": [-1, -0.7142857, -0.4285714, -0.1428571, 0.1428571, 0.4285714, 0.7142857, 1], "labels": false, "title": null}}}}
              ]
            },
            {
              "width": 519, "height": 322,
              "transform": [{"filter": "datum.g == 'older' && datum.r == 'modal'"}],
              "encoding": {
                "x": {"field": "t", "type": "quantitative", "scale": {"domain": [0, 20], "nice": false}, "axis": {"values": [0, 5, 10, 15, 20], "title": "Time", "titlePadding": 6}},
                "color": {"field": "c", "type": "nominal", "scale": {"domain": ["-∅/-N", "-h", "-ʔ", "-VT", "-V:T"], "range": ["#1f77b4", "#ff7f0e", "#2ca02c", "#d62728", "#9467bd"]}, "legend": {"title": "Rhyme or Coda", "orient": "none", "legendX": 240, "legendY": 751, "direction": "horizontal", "columns": 5}}
              },
              "layer": [
                {"mark": {"type": "area", "fillOpacity": 0.2}, "encoding": {"y": {"field": "lo", "type": "quantitative", "scale": {"domain": [-1, 1], "nice": false, "zero": false}, "axis": {"values": [-1, -0.75, -0.5, -0.25, 0, 0.25, 0.5, 0.75, 1], "format": ".2f", "title": ["older", "Scaled f0 values"], "titlePadding": 5}}, "y2": {"field": "hi"}}},
                {"mark": {"type": "line", "strokeWidth": 1.9}, "encoding": {"y": {"field": "v", "type": "quantitative", "axis": {"values": [-1, -0.75, -0.5, -0.25, 0, 0.25, 0.5, 0.75, 1], "format": ".2f", "title": ["older", "Scaled f0 values"], "titlePadding": 5}}}}
              ]
            },
            {
              "width": 519, "height": 322,
              "transform": [{"filter": "datum.g == 'older' && datum.r == 'breathy'"}],
              "encoding": {
                "x": {"field": "t", "type": "quantitative", "scale": {"domain": [0, 20], "nice": false}, "axis": {"values": [0, 5, 10, 15, 20], "title": "Time", "titlePadding": 6}},
                "color": {"field": "c", "type": "nominal", "scale": {"domain": ["-∅/-N", "-h", "-ʔ", "-VT", "-V:T"], "range": ["#1f77b4", "#ff7f0e", "#2ca02c", "#d62728", "#9467bd"]}, "legend": {"title": "Rhyme or Coda", "orient": "none", "legendX": 240, "legendY": 751, "direction": "horizontal", "columns": 5}}
              },
              "layer": [
                {"mark": {"type": "area", "fillOpacity": 0.2}, "encoding": {"y": {"field": "lo", "type": "quantitative", "scale": {"domain": [-1, 1], "nice": false, "zero": false}, "axis": {"values": [-1, -0.7142857, -0.4285714, -0.1428571, 0.1428571, 0.4285714, 0.7142857, 1], "labels": false, "title": null}}, "y2": {"field": "hi"}}},
                {"mark": {"type": "line", "strokeWidth": 1.9}, "encoding": {"y": {"field": "v", "type": "quantitative", "axis": {"values": [-1, -0.7142857, -0.4285714, -0.1428571, 0.1428571, 0.4285714, 0.7142857, 1], "labels": false, "title": null}}}}
              ]
            }
          ]
        }
      ]
    }
  ]
}
